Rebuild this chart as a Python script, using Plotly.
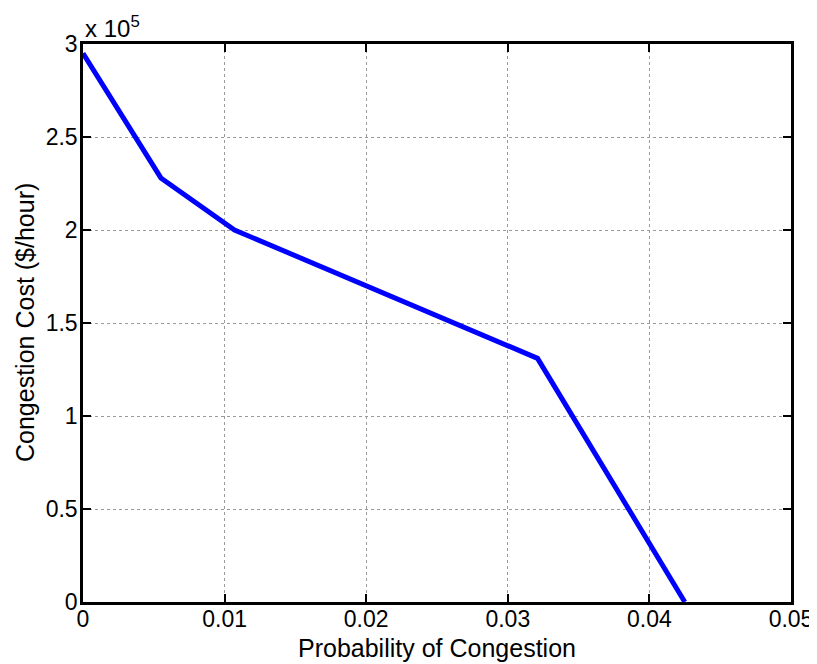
import plotly.graph_objects as go

prob = [0.0, 0.0055, 0.0107, 0.0321, 0.0425]
cost = [2.95e5, 2.28e5, 2.0e5, 1.31e5, 0.0]

x_ticks = [0, 0.01, 0.02, 0.03, 0.04, 0.05]
x_labels = ["0", "0.01", "0.02", "0.03", "0.04", "0.05"]
y_ticks = [0, 0.5e5, 1e5, 1.5e5, 2e5, 2.5e5, 3e5]
y_labels = ["0", "0.5", "1", "1.5", "2", "2.5", "3"]

FONT = "Liberation Sans, Arial, Helvetica, sans-serif"

fig = go.Figure()
fig.add_trace(go.Scatter(x=prob, y=cost, mode="lines",
                         line=dict(color="#0000FF", width=5)))

axis_common = dict(showline=True, linecolor="black", linewidth=2.5, mirror="ticks",
                   ticks="inside", ticklen=8, tickwidth=2, tickcolor="black",
                   showgrid=True, gridcolor="#9a9a9a", griddash="dot", gridwidth=1,
                   zeroline=False, automargin=False,
                   tickfont=dict(family=FONT, size=23, color="black"))

# page body has an 8px margin, so the figure is sized to fit the 817x664 window
fig.update_layout(
    template="none",
    width=809, height=656,
    margin=dict(l=75, r=26, t=36, b=62),
    paper_bgcolor="white", plot_bgcolor="white",
    showlegend=False,
    font=dict(family=FONT, color="black"),
    xaxis=dict(range=[0, 0.05], tickvals=x_ticks, ticktext=x_labels,
               ticklabelstandoff=-5, **axis_common),
    yaxis=dict(range=[0, 3e5], tickvals=y_ticks, ticktext=y_labels,
               ticklabelstandoff=-2, **axis_common),
    annotations=[
        dict(xref="paper", yref="paper", x=0.0, y=1.0, xanchor="left", yanchor="bottom",
             text="x 10<sup>5</sup>", showarrow=False, yshift=0,
             font=dict(family=FONT, size=24, color="black")),
        dict(xref="paper", yref="paper", x=0.5, y=0.0, xanchor="center", yanchor="middle",
             text="Probability of Congestion", showarrow=False, yshift=-46,
             font=dict(family=FONT, size=25, color="black")),
        dict(xref="paper", yref="paper", x=0.0, y=0.5, xanchor="center", yanchor="middle",
             text="Congestion Cost ($/hour)", showarrow=False, xshift=-58, textangle=-90,
             font=dict(family=FONT, size=25, color="black")),
    ],
)

fig.write_html("out.html")
